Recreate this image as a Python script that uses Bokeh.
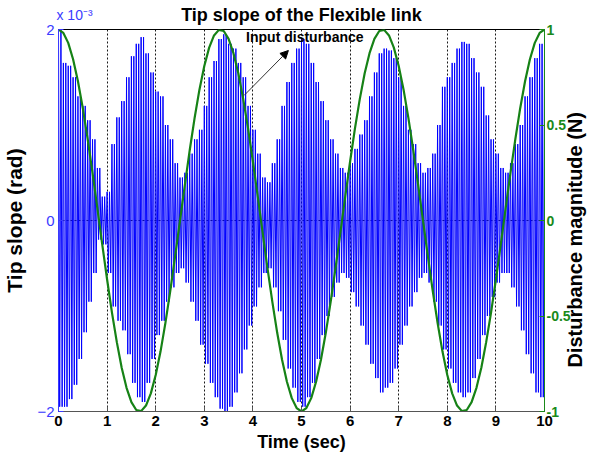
import math
from bokeh.plotting import figure
from bokeh.models import Range1d, LinearAxis, FixedTicker, Label, Arrow, NormalHead, CustomJSTickFormatter
from bokeh.embed import file_html
from bokeh.resources import INLINE

# ---- data ----
# envelope sample times (sec)
env_t = [i / 10 for i in range(101)]
# upper (positive) peaks of tip slope, x 10^-3 rad
tip_upper = [2.0, 1.65, 1.62, 1.5, 1.3, 1.2, 1.05, 0.85, 0.55, 0.25,
             0.3, 0.8, 1.08, 1.25, 1.5, 1.72, 1.85, 1.92, 1.75, 1.55,
             1.35, 1.3, 1.0, 0.85, 0.6, 0.45, 0.5, 0.7, 0.85, 0.95,
             1.2, 1.5, 1.67, 1.9, 1.95, 1.85, 1.8, 1.65, 1.5, 1.2,
             0.95, 0.7, 0.45, 0.4, 0.6, 0.85, 1.2, 1.45, 1.65, 1.8,
             1.9, 1.85, 1.65, 1.45, 1.25, 1.05, 0.85, 0.7, 0.55, 0.5,
             0.6, 0.75, 0.9, 1.05, 1.3, 1.55, 1.75, 1.8, 1.78, 1.7,
             1.5, 1.2, 0.95, 0.8, 0.6, 0.5, 0.55, 0.7, 1.0, 1.4,
             1.5, 1.65, 1.8, 1.87, 1.85, 1.7, 1.55, 1.4, 1.1, 0.85,
             0.7, 0.55, 0.5, 0.6, 0.8, 1.0, 1.3, 1.5, 1.7, 1.85, 1.8]
# lower (negative) peaks of tip slope, magnitude, x 10^-3 rad
tip_lower = [1.95, 1.95, 1.87, 1.72, 1.45, 1.17, 0.85, 0.55, 0.2, 0.25,
             0.55, 0.9, 1.05, 1.15, 1.4, 1.7, 1.85, 1.9, 1.7, 1.45,
             1.2, 1.05, 0.85, 0.7, 0.55, 0.5, 0.65, 0.85, 1.05, 1.3,
             1.5, 1.7, 1.85, 1.97, 2.0, 1.95, 1.8, 1.6, 1.35, 1.1,
             0.9, 0.7, 0.55, 0.5, 0.7, 0.95, 1.25, 1.55, 1.75, 1.9,
             1.95, 1.85, 1.7, 1.45, 1.2, 1.0, 0.8, 0.65, 0.55, 0.6,
             0.75, 0.9, 1.1, 1.3, 1.5, 1.65, 1.8, 1.75, 1.7, 1.55,
             1.3, 1.1, 0.9, 0.75, 0.6, 0.55, 0.65, 0.85, 1.1, 1.35,
             1.55, 1.7, 1.8, 1.85, 1.8, 1.65, 1.45, 1.2, 1.0, 0.8,
             0.65, 0.55, 0.55, 0.7, 0.9, 1.15, 1.4, 1.6, 1.8, 1.85, 1.85]
# input disturbance (N), sampled every 0.1 s
dist_half = [1.0, 0.982, 0.93, 0.844, 0.729, 0.588, 0.426, 0.249, 0.063, -0.125,
             -0.309, -0.482, -0.637, -0.771, -0.876, -0.951, -0.992, -0.998, -0.969, -0.905,
             -0.809, -0.685, -0.536, -0.368, -0.187, 0.0, 0.187, 0.368, 0.536, 0.685,
             0.809, 0.905, 0.969, 0.998, 0.992, 0.951, 0.876, 0.771, 0.637, 0.482,
             0.309, 0.125, -0.063, -0.249, -0.426, -0.588, -0.729, -0.844, -0.93, -0.982,
             -1.0]
dist_vals = dist_half + dist_half[-2::-1]
dist_t = env_t

x_ticks = [0, 1, 2, 3, 4, 5, 6, 7, 8, 9, 10]
left_ticks = [-2, 0, 2]
right_ticks = [-1, -0.5, 0, 0.5, 1]

# ---- build the oscillating trace from the read peaks (2 cycles per 0.1 s) ----
sig_t, sig_v = [], []
for i in range(len(env_t) - 1):
    t0 = env_t[i]
    dt = env_t[i + 1] - t0
    for j in range(4):
        sig_t.append(t0 + j * dt / 4)
        sig_v.append(tip_upper[i] if j % 2 == 0 else -tip_lower[i])
sig_t.append(env_t[-1])
sig_v.append(tip_upper[-1])

FONT = "Liberation Sans"
BLUE_T = "#3a3aff"
GREEN_T = "#1a8a1a"

p = figure(width=600, height=455, output_backend="svg", toolbar_location=None,
           x_range=Range1d(0, 10), y_range=Range1d(-2, 2),
           min_border_left=56, min_border_right=54, min_border_top=29, min_border_bottom=44)
p.title.visible = False
p.outline_line_color = "black"
p.background_fill_color = "white"
p.border_fill_color = "white"

p.extra_y_ranges = {"dist": Range1d(-1, 1)}

xa = p.below[0]
ya = p.left[0]

# grid
p.xgrid.ticker = FixedTicker(ticks=x_ticks)
p.ygrid.ticker = FixedTicker(ticks=left_ticks)
for g in (p.xgrid, p.ygrid):
    g.grid_line_color = "black"
    g.grid_line_dash = "2 2"
    g.grid_line_width = 1
    g.grid_line_alpha = 0.9

# top axis: exponent marker and chart title
ta = LinearAxis(ticker=FixedTicker(ticks=[0.33]),
                major_label_overrides={0.33: "x 10\u207b\u00b3"})
ta.axis_line_color = None
ta.major_tick_line_color = None
ta.minor_tick_line_color = None
ta.major_tick_in = 0
ta.major_tick_out = 0
ta.major_label_text_font = FONT
ta.major_label_text_font_size = "14px"
ta.major_label_text_color = BLUE_T
ta.major_label_standoff = 7
ta.axis_label = "Tip slope of the Flexible link"
ta.axis_label_text_font = FONT
ta.axis_label_text_font_size = "18px"
ta.axis_label_text_font_style = "bold"
ta.axis_label_text_color = "black"
ta.axis_label_standoff = -21
p.add_layout(ta, "above")

# x axis
xa.ticker = FixedTicker(ticks=x_ticks)
xa.axis_label = "Time (sec)"
xa.axis_label_text_font = FONT
xa.axis_label_text_font_size = "18px"
xa.axis_label_text_font_style = "bold"
xa.axis_label_text_color = "black"
xa.axis_label_standoff = 3
xa.major_label_text_font = FONT
xa.major_label_text_font_size = "15px"
xa.major_label_text_font_style = "bold"
xa.major_label_text_color = "black"
xa.major_label_standoff = 4
xa.major_tick_in = 5
xa.major_tick_out = 0
xa.minor_tick_line_color = None
xa.axis_line_color = "#555555"
xa.major_tick_line_color = "#555555"

# left axis
ya.ticker = FixedTicker(ticks=left_ticks)
ya.axis_label = "Tip slope (rad)"
ya.axis_label_text_font = FONT
ya.axis_label_text_font_size = "21px"
ya.axis_label_text_font_style = "bold"
ya.axis_label_text_color = "black"
ya.axis_label_standoff = 8
ya.major_label_text_font = FONT
ya.major_label_text_font_size = "15px"
ya.major_label_text_color = BLUE_T
ya.major_label_standoff = 4
ya.major_tick_in = 5
ya.major_tick_out = 0
ya.minor_tick_line_color = None
ya.axis_line_color = BLUE_T
ya.major_tick_line_color = BLUE_T

# right axis (ticks)
ra = LinearAxis(y_range_name="dist", ticker=FixedTicker(ticks=right_ticks))
ra.formatter = CustomJSTickFormatter(code="return tick.toString();")
ra.major_label_text_font = FONT
ra.major_label_text_font_size = "14px"
ra.major_label_text_font_style = "bold"
ra.major_label_text_color = GREEN_T
ra.major_label_standoff = 2
ra.major_tick_in = 5
ra.major_tick_out = 0
ra.minor_tick_line_color = None
ra.axis_line_color = GREEN_T
ra.major_tick_line_color = GREEN_T
p.add_layout(ra, "right")

# right axis title, reading bottom to top (drawn as a rotated label starting low)
label_start = -0.77
rl = LinearAxis(y_range_name="dist", ticker=FixedTicker(ticks=[label_start]),
                major_label_overrides={label_start: "Disturbance magnitude (N)"})
rl.axis_line_color = None
rl.major_tick_line_color = None
rl.minor_tick_line_color = None
rl.major_tick_in = 0
rl.major_tick_out = 0
rl.major_label_orientation = math.pi / 2
rl.major_label_text_font = FONT
rl.major_label_text_font_size = "20px"
rl.major_label_text_font_style = "bold"
rl.major_label_text_color = "black"
rl.major_label_standoff = 2
p.add_layout(rl, "right")

# data
p.line(sig_t, sig_v, line_color="#0000ff", line_width=1)
p.line(dist_t, dist_vals, y_range_name="dist", line_color="#168216", line_width=2.2)

# annotation
p.add_layout(Label(x=3.86, y=1.92, text="Input disturbance", text_font=FONT,
                   text_font_size="14px", text_font_style="bold", text_color="black",
                   text_baseline="middle"))
p.add_layout(Arrow(x_start=3.82, y_start=1.31, x_end=4.73, y_end=1.78,
                   line_color="#333333", line_width=1,
                   end=NormalHead(size=8, fill_color="black", line_color="black")))

open("out.html", "w").write(file_html(p, INLINE))
